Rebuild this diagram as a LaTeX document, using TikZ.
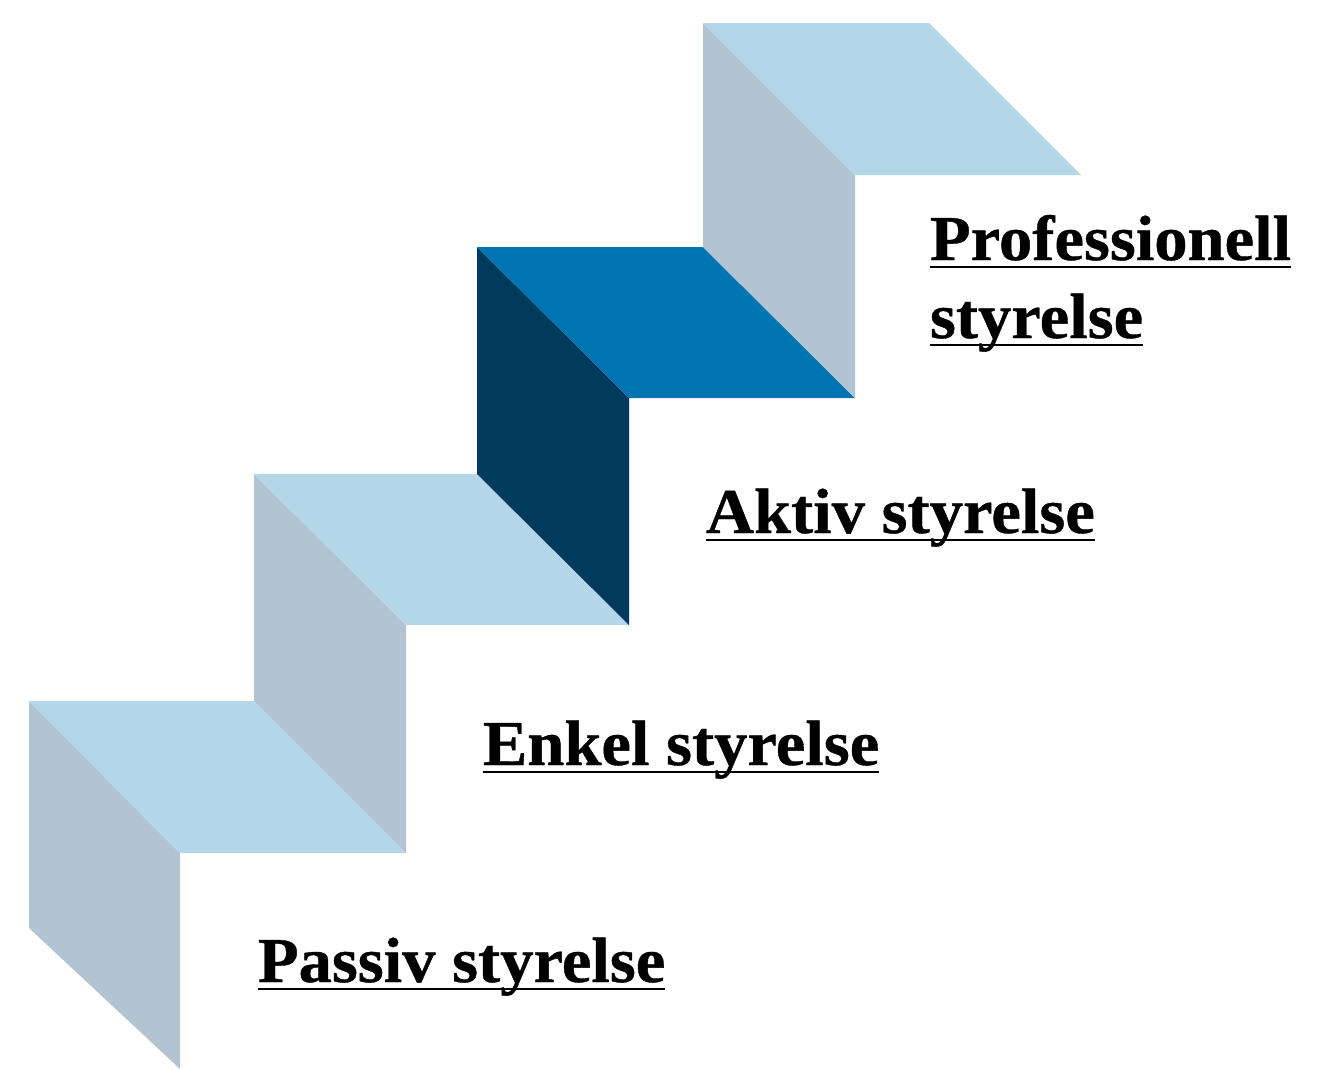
\documentclass[tikz,border=0pt]{standalone}
\usepackage{fontspec}
\newfontfamily\lblfont[FakeStretch=1.04,FakeBold=0.6]{Liberation Serif Bold}
\definecolor{lighttop}{HTML}{B3D6E8}
\definecolor{lightside}{HTML}{B2C4D2}
\definecolor{darktop}{HTML}{0075B2}
\definecolor{darkside}{HTML}{003A5D}
\newcommand\stepul[1]{\setbox0\hbox{#1}\rlap{\rule[-8pt]{\wd0}{2pt}}\box0}
\begin{document}
\begin{tikzpicture}[x=1pt,y=-1pt,
  lbl/.style={anchor=base west,inner sep=0pt,outer sep=0pt,align=left,
    font=\lblfont\fontsize{64}{78}\selectfont}]
\useasboundingbox (0,0) rectangle (1318,1069);
% step 1
\fill[lightside] (29,701) -- (180,853) -- (180,1069) -- (29,928) -- cycle;
\fill[lighttop] (29,701) -- (254,701) -- (406,853) -- (180,853) -- cycle;
% step 2
\fill[lightside] (254,474) -- (406,625) -- (406,853) -- (254,701) -- cycle;
\fill[lighttop] (254,474) -- (477,474) -- (629,625) -- (406,625) -- cycle;
% step 3
\fill[darkside] (477,247) -- (629,398) -- (629,625) -- (477,474) -- cycle;
\fill[darktop] (477,247) -- (703,247) -- (855,398) -- (629,398) -- cycle;
% step 4
\fill[lightside] (703,23) -- (855,175) -- (855,398) -- (703,247) -- cycle;
\fill[lighttop] (703,23) -- (929,23) -- (1081,175) -- (855,175) -- cycle;
% labels
\node[lbl] (prof) at (930,338) {\stepul{Professionell}\\\stepul{styrelse}};
\node[lbl] (aktiv) at (706,533) {\stepul{Aktiv styrelse}};
\node[lbl] (enkel) at (483,765) {\stepul{Enkel styrelse}};
\node[lbl] (passiv) at (258,982) {\stepul{Passiv styrelse}};
\end{tikzpicture}
\end{document}
